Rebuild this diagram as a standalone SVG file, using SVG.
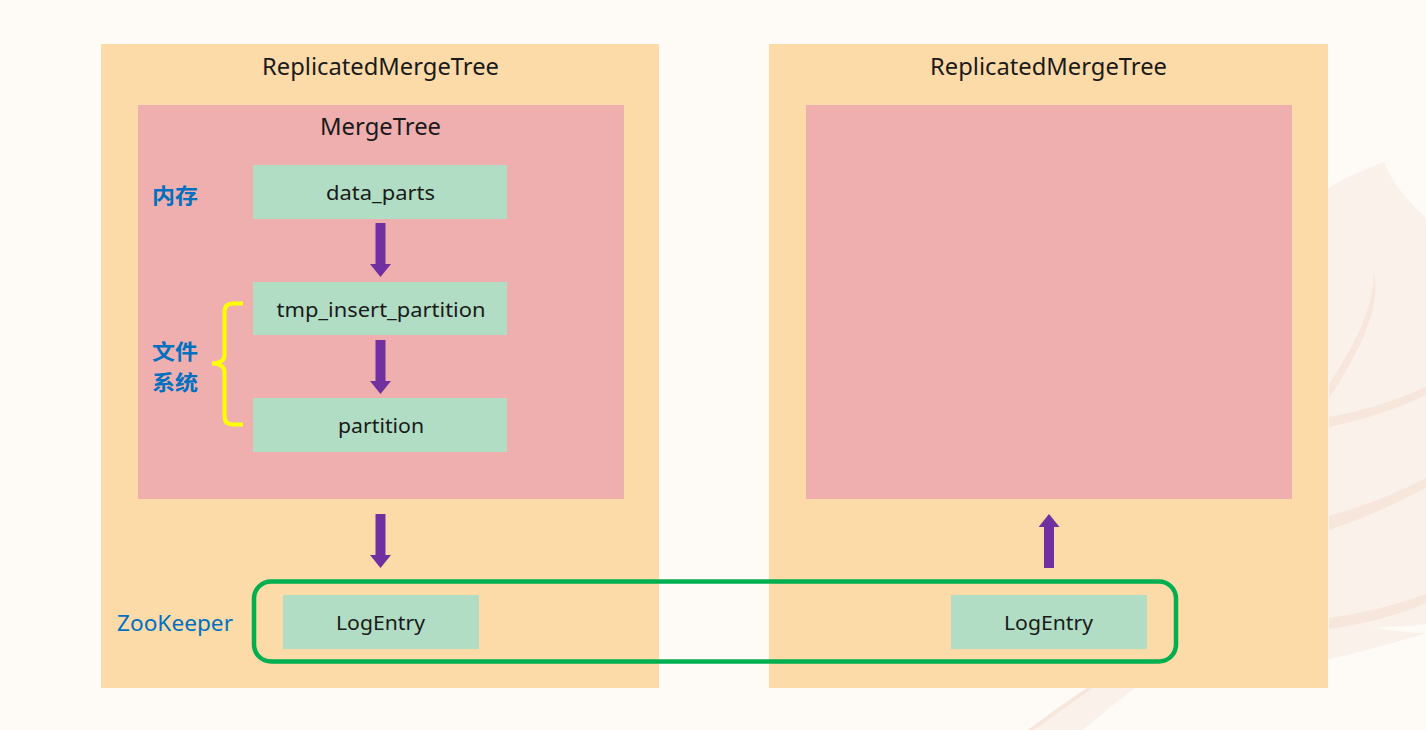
<svg xmlns="http://www.w3.org/2000/svg" width="1426" height="730" viewBox="0 0 1426 730">
  <defs>
    <style>
      .outer { fill: #FDDBA9; }
      .inner { fill: #F0AFAF; }
      .item { fill: #B1DDC4; }
      .lbl { font-family: "Comic Sans MS", "Noto Sans", "Liberation Sans", sans-serif; fill: #1A1A1A; text-anchor: middle; }
      .title { font-size: 24px; }
      .node { font-size: 20px; }
      .cn { font-family: "Noto Sans CJK SC", "Noto Sans", sans-serif; font-weight: bold; font-size: 21px; fill: #0070C0; }
      .zk { font-family: "Comic Sans MS", "Noto Sans", "Liberation Sans", sans-serif; font-size: 22px; fill: #0070C0; }
      .arrow { stroke: #7030A0; stroke-width: 10; fill: none; }
      .deco { fill: #FAF1EA; }
      .stripe { fill: #F6E6DB; }
    </style>
    <marker id="head" viewBox="0 0 13 21" refX="0" refY="10.5" markerWidth="13" markerHeight="21" markerUnits="userSpaceOnUse" orient="auto">
      <path d="M0,0 L13,10.5 L0,21 Z" fill="#7030A0"/>
    </marker>
  </defs>

  <rect width="1426" height="730" fill="#FEFAF5"/>

  <g id="decoration">
    <path class="deco" d="M1300,205 Q1345,176 1384,162 Q1395,190 1426,218 L1426,633 Q1380,648 1300,666 Z"/>
    <path fill="#FEFAF5" d="M1426,624 Q1400,628 1373,627 Q1400,633 1426,633 Z"/>
    <path class="deco" d="M1028,730 Q1060,706 1087,688 L1135,688 Q1106,710 1083,730 Z"/>
    <path class="stripe" d="M1028,730 Q1060,706 1087,688 L1093,688 Q1064,708 1034,730 Z"/>
    <path class="stripe" d="M1374,272 Q1380,300 1362,340 Q1348,370 1329,398 L1329,384 Q1352,350 1364,320 Q1374,295 1374,272 Z"/>
    <path class="stripe" d="M1426,387 Q1380,408 1329,417 L1329,427 Q1385,415 1426,395 Z"/>
    <path class="stripe" d="M1426,478 Q1380,502 1329,516 L1329,530 Q1385,511 1426,487 Z"/>
    <path class="stripe" d="M1426,594 Q1380,611 1329,618 L1329,629 Q1385,621 1426,603 Z"/>
  </g>

  <g id="left-replica">
    <rect class="outer" x="101" y="44" width="558" height="644"/>
    <text class="lbl title" x="380.5" y="75" textLength="237" lengthAdjust="spacingAndGlyphs">ReplicatedMergeTree</text>
  </g>
  <g id="right-replica">
    <rect class="outer" x="769" y="44" width="559" height="644"/>
    <text class="lbl title" x="1048.5" y="75" textLength="237" lengthAdjust="spacingAndGlyphs">ReplicatedMergeTree</text>
  </g>

  <g id="left-mergetree">
    <rect class="inner" x="138" y="105" width="486" height="394"/>
    <text class="lbl title" x="380.5" y="134.5" textLength="121" lengthAdjust="spacingAndGlyphs">MergeTree</text>
  </g>
  <g id="right-mergetree">
    <rect class="inner" x="806" y="105" width="486" height="394"/>
  </g>

  <g id="label-memory">
    <text class="cn" x="152" y="202.5" textLength="46" lengthAdjust="spacingAndGlyphs">内存</text>
  </g>
  <g id="label-filesystem">
    <text class="cn" x="152" y="358.5" textLength="46" lengthAdjust="spacingAndGlyphs">文件</text>
    <text class="cn" x="152" y="389.5" textLength="46" lengthAdjust="spacingAndGlyphs">系统</text>
    <path d="M243,303.5 L233,303.5 Q224.5,303.5 224.5,312 L224.5,355 Q224.5,363 212,363.5 Q224.5,364 224.5,372 L224.5,416 Q224.5,424.5 233,424.5 L243,424.5" fill="none" stroke="#FFFF00" stroke-width="4"/>
  </g>
  <g id="label-zookeeper">
    <text class="zk" x="117" y="630.5" textLength="116" lengthAdjust="spacingAndGlyphs">ZooKeeper</text>
  </g>

  <g id="node-data-parts">
    <rect class="item" x="253" y="165" width="254" height="54"/>
    <text class="lbl node" x="380.5" y="200" textLength="109" lengthAdjust="spacingAndGlyphs">data_parts</text>
  </g>
  <g id="node-tmp-insert-partition">
    <rect class="item" x="253" y="282" width="254" height="53"/>
    <text class="lbl node" x="381" y="317" textLength="209" lengthAdjust="spacingAndGlyphs">tmp_insert_partition</text>
  </g>
  <g id="node-partition">
    <rect class="item" x="253" y="398" width="254" height="54"/>
    <text class="lbl node" x="381" y="433" textLength="86" lengthAdjust="spacingAndGlyphs">partition</text>
  </g>

  <g id="zookeeper-box">
    <rect x="254" y="581.5" width="922" height="80" rx="17" ry="17" fill="none" stroke="#00B050" stroke-width="4.5"/>
  </g>
  <g id="node-logentry-left">
    <rect class="item" x="283" y="595" width="196" height="54"/>
    <text class="lbl node" x="380.5" y="630" textLength="89" lengthAdjust="spacingAndGlyphs">LogEntry</text>
  </g>
  <g id="node-logentry-right">
    <rect class="item" x="951" y="595" width="196" height="54"/>
    <text class="lbl node" x="1048.5" y="630" textLength="89" lengthAdjust="spacingAndGlyphs">LogEntry</text>
  </g>

  <g id="connectors">
    <line class="arrow" x1="380.5" y1="223" x2="380.5" y2="264" marker-end="url(#head)"/>
    <line class="arrow" x1="380.5" y1="340" x2="380.5" y2="381" marker-end="url(#head)"/>
    <line class="arrow" x1="380.5" y1="514" x2="380.5" y2="555" marker-end="url(#head)"/>
    <line class="arrow" x1="1049" y1="568" x2="1049" y2="527" marker-end="url(#head)"/>
  </g>
</svg>
